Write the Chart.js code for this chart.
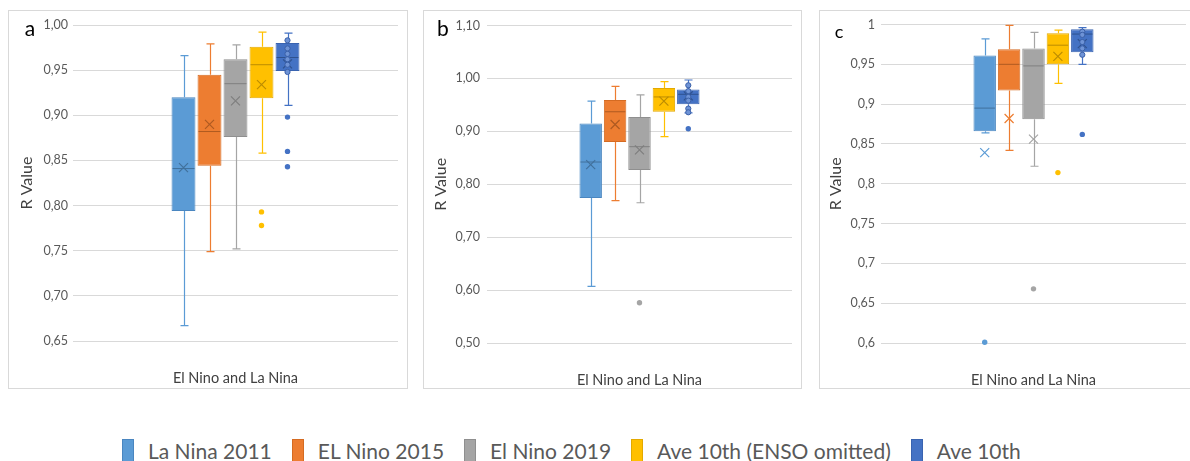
<!DOCTYPE html>
<html>
<head>
<meta charset="utf-8">
<script src="https://cdn.jsdelivr.net/npm/chart.js@4.4.1/dist/chart.umd.min.js"></script>
<style>
  html, body { margin: 0; padding: 0; background: #fff; width: 1190px; height: 461px; overflow: hidden; }
  .panel { position: absolute; top: 10px; height: 379px; border: 1px solid #d9d9d9; box-sizing: border-box; background: #fff; }
  #panelA { left: 8px; width: 400px; }
  #panelB { left: 423px; width: 379px; }
  #panelC { left: 819px; width: 380px; }
  .panel canvas { display: block; }
  #legend { position: absolute; left: 122px; top: 438px; display: flex; align-items: center; font-family: Lato, "Open Sans", sans-serif; font-size: 21px; color: #595959; white-space: nowrap; }
  .item { display: flex; align-items: center; margin-right: 20px; }
  .swatch { width: 12px; height: 23px; box-sizing: border-box; border: 1px solid; margin-right: 14px; }
</style>
</head>
<body>
<div class="panel" id="panelA"><canvas id="chartA" width="398" height="377"></canvas></div>
<div class="panel" id="panelB"><canvas id="chartB" width="377" height="377"></canvas></div>
<div class="panel" id="panelC"><canvas id="chartC" width="378" height="377"></canvas></div>
<div id="legend"></div>

<script>
// ---- series and category ----
const seriesNames = ['La Nina 2011', 'EL Nino 2015', 'El Nino 2019', 'Ave 10th (ENSO omitted)', 'Ave 10th'];
const categories = ['El Nino and La Nina'];
const fillColors = ['#5B9BD5', '#ED7D31', '#A5A5A5', '#FFC000', '#4472C4'];
const edgeColors = ['#4A86C0', '#D56B22', '#8F8F8F', '#E3A900', '#3963B0'];
const markColors = ['#41719C', '#AE5A21', '#7F7F7F', '#BC8C00', '#2F528F'];

// ---- panel a ----
const aMin    = [0.667, 0.749, 0.752, 0.858, 0.911];
const aQ1     = [0.794, 0.844, 0.876, 0.919, 0.949];
const aMedian = [0.841, 0.882, 0.935, 0.956, 0.964];
const aQ3     = [0.920, 0.945, 0.962, 0.976, 0.980];
const aMax    = [0.966, 0.979, 0.978, 0.992, 0.991];
const aMean   = [0.842, 0.890, 0.916, 0.934, 0.957];
const aOutliers = [[], [], [], [0.793, 0.778], [0.898, 0.860, 0.843]];
const aInner    = [[], [], [], [], [0.983, 0.974, 0.968, 0.962, 0.956, 0.948]];
const aTickValues = [0.65, 0.70, 0.75, 0.80, 0.85, 0.90, 0.95, 1.00];
const aTickLabels = ['0,65', '0,70', '0,75', '0,80', '0,85', '0,90', '0,95', '1,00'];

// ---- panel b ----
const bMin    = [0.607, 0.769, 0.765, 0.890, 0.935];
const bQ1     = [0.774, 0.880, 0.827, 0.937, 0.951];
const bMedian = [0.842, 0.937, 0.871, 0.965, 0.970];
const bQ3     = [0.915, 0.959, 0.927, 0.982, 0.979];
const bMax    = [0.957, 0.985, 0.969, 0.994, 0.997];
const bMean   = [0.837, 0.913, 0.865, 0.957, 0.967];
const bOutliers = [[], [], [0.576], [], [0.905]];
const bInner    = [[], [], [], [], [0.987, 0.976, 0.965, 0.958, 0.943, 0.936]];
const bTickValues = [0.50, 0.60, 0.70, 0.80, 0.90, 1.00, 1.10];
const bTickLabels = ['0,50', '0,60', '0,70', '0,80', '0,90', '1,00', '1,10'];

// ---- panel c ----
const cMin    = [0.864, 0.842, 0.822, 0.926, 0.950];
const cQ1     = [0.866, 0.917, 0.881, 0.950, 0.965];
const cMedian = [0.895, 0.950, 0.948, 0.974, 0.988];
const cQ3     = [0.961, 0.969, 0.970, 0.989, 0.994];
const cMax    = [0.982, 0.999, 0.990, 0.993, 0.996];
const cMean   = [0.839, 0.882, 0.856, 0.960, 0.976];
const cOutliers = [[0.601], [], [0.668], [0.814], [0.862]];
const cInner    = [[], [], [], [], [0.991, 0.987, 0.978, 0.970, 0.962]];
const cTickValues = [0.60, 0.65, 0.70, 0.75, 0.80, 0.85, 0.90, 0.95, 1.00];
const cTickLabels = ['0,6', '0,65', '0,7', '0,75', '0,8', '0,85', '0,9', '0,95', '1'];

const FONT = 'Lato, "Open Sans", sans-serif';

// Whiskers, medians, means and individual points drawn on top of the floating-bar boxes
const boxDetails = {
  id: 'boxDetails',
  afterDatasetsDraw(chart) {
    const ctx = chart.ctx;
    const ys = chart.scales.y;
    chart.data.datasets.forEach((ds, i) => {
      const bar = chart.getDatasetMeta(i).data[0];
      if (!bar) return;
      const x = Math.round(bar.x) + 0.5;
      const half = bar.width / 2;
      const st = ds.stats;
      const py = v => ys.getPixelForValue(v);
      ctx.save();
      // whiskers
      ctx.strokeStyle = ds.backgroundColor;
      ctx.lineWidth = 1.2;
      ctx.beginPath();
      ctx.moveTo(x, py(st.q3)); ctx.lineTo(x, py(st.max));
      ctx.moveTo(x, py(st.q1)); ctx.lineTo(x, py(st.min));
      ctx.moveTo(x - 4, py(st.max)); ctx.lineTo(x + 4, py(st.max));
      ctx.moveTo(x - 4, py(st.min)); ctx.lineTo(x + 4, py(st.min));
      ctx.stroke();
      // median
      ctx.strokeStyle = st.mark;
      ctx.lineWidth = 1;
      ctx.beginPath();
      ctx.moveTo(bar.x - half + 1, py(st.median)); ctx.lineTo(bar.x + half - 1, py(st.median));
      ctx.stroke();
      // mean marker
      const my = py(st.mean), r = 4.5;
      ctx.strokeStyle = (st.mean >= st.q1 && st.mean <= st.q3) ? st.mark : ds.backgroundColor;
      ctx.lineWidth = 1.2;
      ctx.beginPath();
      ctx.moveTo(bar.x - r, my - r); ctx.lineTo(bar.x + r, my + r);
      ctx.moveTo(bar.x + r, my - r); ctx.lineTo(bar.x - r, my + r);
      ctx.stroke();
      // inner points
      st.inner.forEach(v => {
        ctx.beginPath();
        ctx.arc(bar.x, py(v), 2.6, 0, Math.PI * 2);
        ctx.fillStyle = '#6E93D6';
        ctx.fill();
        ctx.strokeStyle = '#3A60A8';
        ctx.lineWidth = 1;
        ctx.stroke();
      });
      // outliers
      st.outliers.forEach(v => {
        ctx.beginPath();
        ctx.arc(bar.x, py(v), 2.7, 0, Math.PI * 2);
        ctx.fillStyle = ds.backgroundColor;
        ctx.fill();
      });
      ctx.restore();
    });
  }
};

// Panel letter in the top-left corner
const panelLetter = {
  id: 'panelLetter',
  afterDraw(chart, args, opts) {
    const ctx = chart.ctx;
    ctx.save();
    ctx.fillStyle = '#000';
    ctx.font = opts.size + 'px ' + FONT;
    ctx.textAlign = 'center';
    ctx.textBaseline = 'middle';
    ctx.fillText(opts.text, opts.x, opts.y);
    ctx.restore();
  }
};

function makePanel(canvasId, d) {
  const datasets = seriesNames.map((name, i) => ({
    label: name,
    data: [[d.q1[i], d.q3[i]]],
    backgroundColor: fillColors[i],
    borderColor: edgeColors[i],
    borderWidth: 1,
    borderSkipped: false,
    categoryPercentage: 0.4,
    barPercentage: 0.92,
    stats: {
      min: d.min[i], q1: d.q1[i], median: d.median[i], q3: d.q3[i], max: d.max[i],
      mean: d.mean[i], outliers: d.outliers[i], inner: d.inner[i], mark: markColors[i]
    }
  }));
  return new Chart(document.getElementById(canvasId), {
    type: 'bar',
    data: { labels: categories, datasets },
    plugins: [boxDetails, panelLetter],
    options: {
      responsive: false,
      animation: false,
      layout: { padding: { top: d.padTop, right: d.padRight, left: 0, bottom: 0 } },
      plugins: {
        legend: { display: false },
        tooltip: { enabled: false },
        panelLetter: d.letter
      },
      scales: {
        x: {
          grid: { display: false },
          border: { display: false },
          ticks: { color: '#404040', font: { family: FONT, size: 14.5 }, padding: d.xPad },
          afterFit: s => { s.height = d.xHeight; }
        },
        y: {
          min: d.ticks[0],
          max: d.ticks[d.ticks.length - 1],
          grid: { color: '#d9d9d9', lineWidth: 1, drawTicks: false },
          border: { display: false },
          afterBuildTicks: s => { s.ticks = d.ticks.map(v => ({ value: v })); },
          ticks: {
            color: '#595959',
            font: { family: FONT, size: 12.5 },
            padding: d.yPad,
            callback: (v, idx) => d.tickLabels[idx]
          },
          title: {
            display: true, text: 'R Value', color: '#404040',
            font: { family: FONT, size: 16 },
            padding: { top: d.titlePad, bottom: 0 }
          },
          afterFit: s => { s.width = d.yWidth; }
        }
      }
    }
  });
}

makePanel('chartA', {
  min: aMin, q1: aQ1, median: aMedian, q3: aQ3, max: aMax, mean: aMean,
  outliers: aOutliers, inner: aInner, ticks: aTickValues, tickLabels: aTickLabels,
  padTop: 14, padRight: 9, xHeight: 47, yWidth: 64, yPad: 5, xPad: 21, titlePad: 8,
  letter: { text: 'a', x: 21, y: 18, size: 21 }
});
makePanel('chartB', {
  min: bMin, q1: bQ1, median: bMedian, q3: bQ3, max: bMax, mean: bMean,
  outliers: bOutliers, inner: bInner, ticks: bTickValues, tickLabels: bTickLabels,
  padTop: 13, padRight: 9, xHeight: 45, yWidth: 63, yPad: 7, xPad: 21, titlePad: 7,
  letter: { text: 'b', x: 19, y: 18, size: 21 }
});
makePanel('chartC', {
  min: cMin, q1: cQ1, median: cMedian, q3: cQ3, max: cMax, mean: cMean,
  outliers: cOutliers, inner: cInner, ticks: cTickValues, tickLabels: cTickLabels,
  padTop: 13, padRight: 12, xHeight: 45, yWidth: 61, yPad: 6, xPad: 21, titlePad: 6,
  letter: { text: 'c', x: 19, y: 21, size: 18 }
});

// Shared legend below the three panels
const legend = document.getElementById('legend');
seriesNames.forEach((name, i) => {
  const item = document.createElement('div');
  item.className = 'item';
  const sw = document.createElement('span');
  sw.className = 'swatch';
  sw.style.background = fillColors[i];
  sw.style.borderColor = edgeColors[i];
  const label = document.createElement('span');
  label.textContent = name;
  item.appendChild(sw);
  item.appendChild(label);
  legend.appendChild(item);
});
</script>
</body>
</html>
